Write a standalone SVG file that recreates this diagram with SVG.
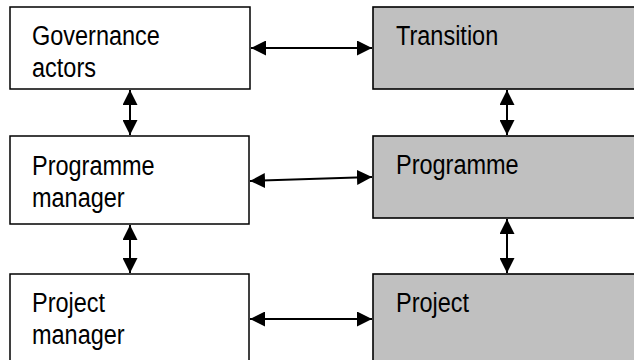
<svg xmlns="http://www.w3.org/2000/svg" width="634" height="360" viewBox="0 0 634 360">
<style>
.box{fill:#ffffff;stroke:#000;stroke-width:1.5}
.gbox{fill:#c0c0c0;stroke:#000;stroke-width:1.6}
.lbl{font-family:"Liberation Sans",Arial,sans-serif;font-size:27px;fill:#000}
.con{stroke:#000;stroke-width:2;fill:none;marker-start:url(#ah);marker-end:url(#ah)}
</style>
<defs>
<marker id="ah" markerUnits="userSpaceOnUse" markerWidth="16" markerHeight="15" refX="15" refY="7.5" orient="auto-start-reverse" viewBox="0 0 16 15">
<path d="M0,0 L15,7.5 L0,15 z" fill="#000"/>
</marker>
</defs>
<g id="governance">
<rect class="box" x="10" y="7" width="240" height="82"/>
<text class="lbl" transform="translate(32,45) scale(0.87 1)">Governance</text>
<text class="lbl" transform="translate(32,77) scale(0.87 1)">actors</text>
</g>
<g id="programme-manager">
<rect class="box" x="10" y="136" width="239" height="88"/>
<text class="lbl" transform="translate(32,175) scale(0.87 1)">Programme</text>
<text class="lbl" transform="translate(32,207) scale(0.87 1)">manager</text>
</g>
<g id="project-manager">
<rect class="box" x="10" y="274" width="239" height="100"/>
<text class="lbl" transform="translate(32,312) scale(0.87 1)">Project</text>
<text class="lbl" transform="translate(32,344) scale(0.87 1)">manager</text>
</g>
<g id="transition">
<rect class="gbox" x="373" y="7" width="280" height="82"/>
<text class="lbl" transform="translate(396,44.5) scale(0.87 1)">Transition</text>
</g>
<g id="programme">
<rect class="gbox" x="373" y="136" width="280" height="82"/>
<text class="lbl" transform="translate(396,174) scale(0.87 1)">Programme</text>
</g>
<g id="project">
<rect class="gbox" x="373" y="274" width="280" height="100"/>
<text class="lbl" transform="translate(396,312) scale(0.87 1)">Project</text>
</g>
<g id="connectors">
<line class="con" x1="251" y1="48" x2="372" y2="48"/>
<line class="con" x1="250" y1="181" x2="372" y2="177"/>
<line class="con" x1="250" y1="319" x2="372" y2="319"/>
<line class="con" x1="130" y1="90" x2="130" y2="135"/>
<line class="con" x1="130" y1="225" x2="130" y2="273"/>
<line class="con" x1="507" y1="90" x2="507" y2="135"/>
<line class="con" x1="507" y1="219" x2="507" y2="273"/>
</g>
</svg>
